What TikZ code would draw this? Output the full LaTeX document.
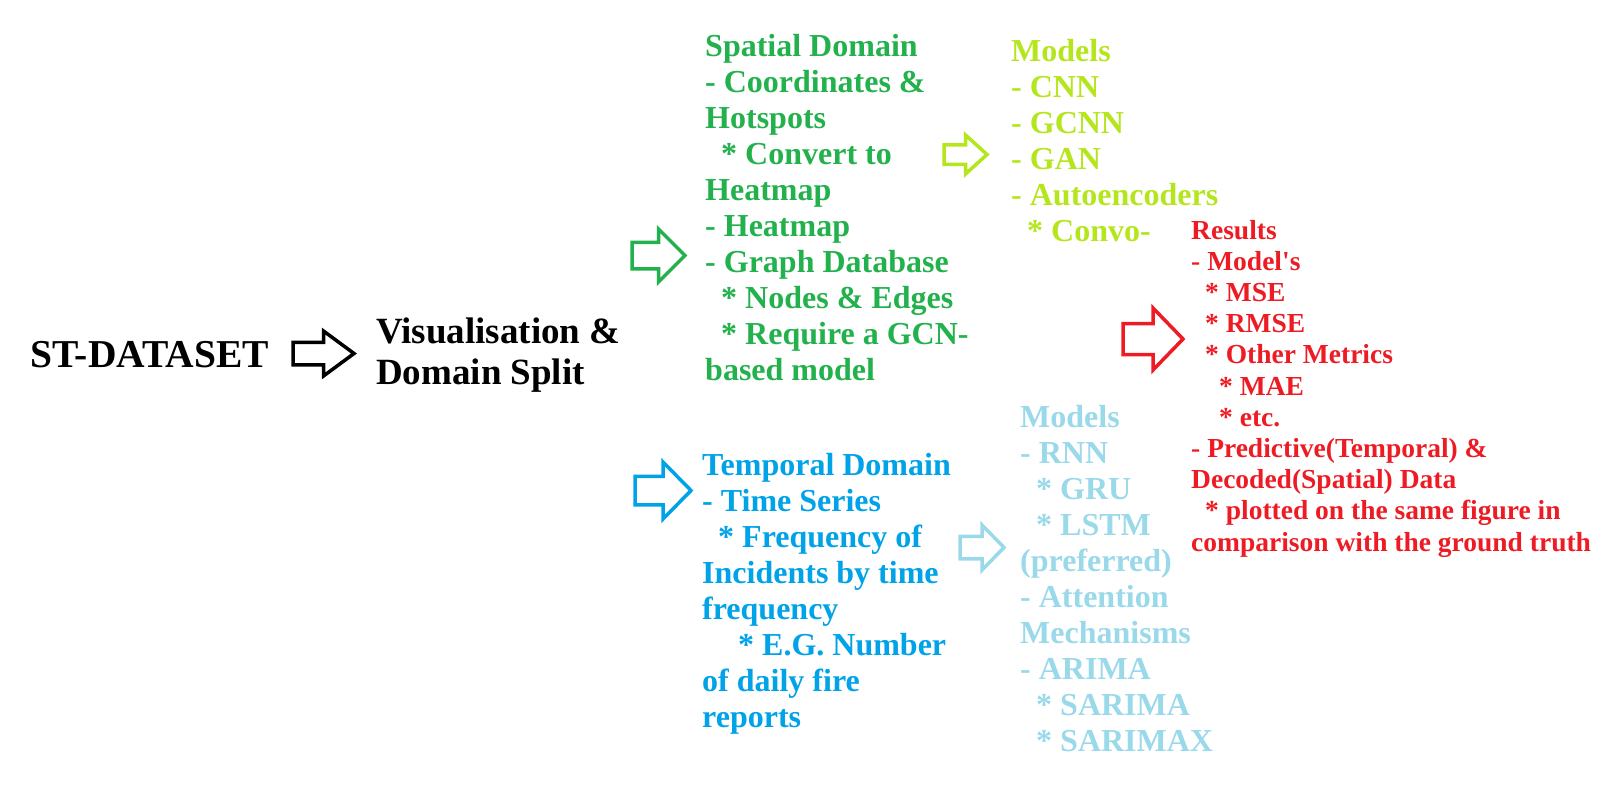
\documentclass[tikz,border=0pt]{standalone}
\usepackage{fontspec}
\setmainfont{Liberation Serif}
\definecolor{paintgreen}{HTML}{22B14C}
\definecolor{paintlime}{HTML}{B5E61D}
\definecolor{paintred}{HTML}{ED1C24}
\definecolor{paintblue}{HTML}{00A2E8}
\definecolor{paintsky}{HTML}{99D9EA}
\newcommand{\blockarrow}[5][]{
  % hollow block arrow, tail at (#2, #3), length #4, height #5
  \draw[line width=3.5pt, line join=miter, #1] (#2, #3 - 0.25*#5) -- (#2 + 0.5*#4, #3 - 0.25*#5) -- (#2 + 0.5*#4, #3 - 0.5*#5) -- (#2 + #4, #3) -- (#2 + 0.5*#4, #3 + 0.5*#5) -- (#2 + 0.5*#4, #3 + 0.25*#5) -- (#2, #3 + 0.25*#5) -- cycle;
}
\newcommand{\straightquote}{{\addfontfeature{Ligatures=TeXOff}'}}
\tikzset{
  label/.style={anchor=base west, align=left, inner sep=0pt},
  titletext/.style={label, font=\fontsize{39.5}{41}\selectfont\bfseries},
  bigtext/.style={label, font=\fontsize{37}{41}\selectfont\bfseries},
  listtext/.style={label, font=\fontsize{32}{36}\selectfont\bfseries},
  smalltext/.style={label, font=\fontsize{27.5}{31.2}\selectfont\bfseries}
}

\begin{document}
\begin{tikzpicture}[x=1pt, y=-1pt]
	\useasboundingbox (0, 0) rectangle (1602, 801);

	% nodes sit on the baseline of their last line
	\node[titletext] (dataset) at (30, 367) {ST-DATASET};
	\blockarrow{293}{353.5}{61}{45};
	\node[bigtext] (split) at (376, 384) {Visualisation \&\\Domain Split};

	\blockarrow[paintgreen]{632}{255.5}{53}{53};
	\node[listtext, paintgreen] (spatial) at (705, 380) {Spatial Domain\\- Coordinates \&\\Hotspots\\\hspace*{16pt}* Convert to\\Heatmap\\- Heatmap\\- Graph Database\\\hspace*{16pt}* Nodes \& Edges\\\hspace*{16pt}* Require a GCN-\\based model};

	\blockarrow[paintlime]{944}{154.5}{43}{39};
	\node[listtext, paintlime] (spatialmodels) at (1011, 241) {Models\\- CNN\\- GCNN\\- GAN\\- Autoencoders\\\hspace*{16pt}* Convo-};

	\blockarrow[paintred]{1123}{339}{60}{62};
	\node[smalltext, paintred] (results) at (1191, 551) {Results\\- Model\straightquote s\\\hspace*{14pt}* MSE\\\hspace*{14pt}* RMSE\\\hspace*{14pt}* Other Metrics\\\hspace*{28pt}* MAE\\\hspace*{28pt}* etc.\\- Predictive(Temporal) \&\\Decoded(Spatial) Data\\\hspace*{14pt}* plotted on the same figure in\\comparison with the ground truth};

	\blockarrow[paintblue]{635}{490.5}{56}{57};
	\node[listtext, paintblue] (temporal) at (702, 727) {Temporal Domain\\- Time Series\\\hspace*{16pt}* Frequency of\\Incidents by time\\frequency\\\hspace*{36pt}* E.G. Number\\of daily fire\\reports};

	\blockarrow[paintsky]{960}{547.5}{44}{45};
	\node[listtext, paintsky] (temporalmodels) at (1020, 751) {Models\\- RNN\\\hspace*{16pt}* GRU\\\hspace*{16pt}* LSTM\\(preferred)\\- Attention\\Mechanisms\\- ARIMA\\\hspace*{16pt}* SARIMA\\\hspace*{16pt}* SARIMAX};
\end{tikzpicture}
\end{document}
